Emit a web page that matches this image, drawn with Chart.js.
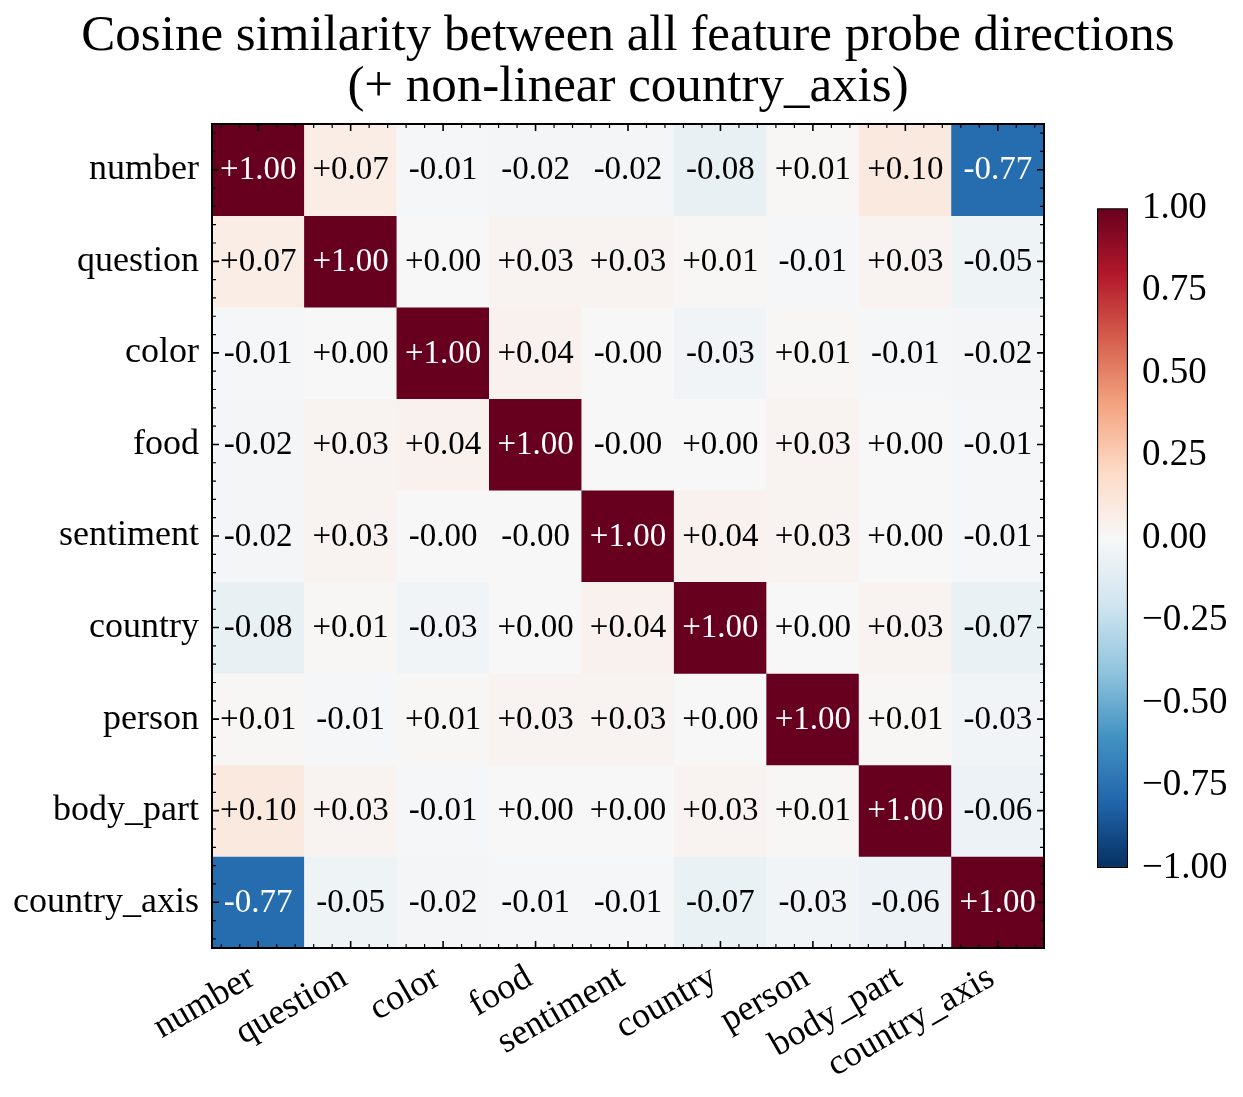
<!DOCTYPE html>
<html>
<head>
<meta charset="utf-8">
<title>Cosine similarity heatmap</title>
<script src="https://cdn.jsdelivr.net/npm/chart.js@4.4.1/dist/chart.umd.min.js"></script>
<style>
  html,body{margin:0;padding:0;background:#fff;}
  #wrap{position:relative;width:1243px;height:1097px;}
  #main{position:absolute;left:0;top:0;width:1243px;height:1097px;}
  #cbar{position:absolute;left:1097px;top:180px;width:146px;height:720px;}
</style>
</head>
<body>
<div id="wrap">
  <div id="main"><canvas id="heat"></canvas></div>
  <div id="cbar"><canvas id="bar"></canvas></div>
</div>
<script>
// --- Data ---
const FEATURES = ['number','question','color','food','sentiment','country','person','body_part','country_axis'];
// rows in FEATURES order; "-0.00" cells kept as tiny negatives so the sign shows
const ROW_NUMBER       = [ 1.00,  0.07, -0.01, -0.02, -0.02, -0.08,  0.01,  0.10, -0.77];
const ROW_QUESTION     = [ 0.07,  1.00,  0.00,  0.03,  0.03,  0.01, -0.01,  0.03, -0.05];
const ROW_COLOR        = [-0.01,  0.00,  1.00,  0.04, -0.002,-0.03,  0.01, -0.01, -0.02];
const ROW_FOOD         = [-0.02,  0.03,  0.04,  1.00, -0.002, 0.00,  0.03,  0.00, -0.01];
const ROW_SENTIMENT    = [-0.02,  0.03, -0.002,-0.002, 1.00,  0.04,  0.03,  0.00, -0.01];
const ROW_COUNTRY      = [-0.08,  0.01, -0.03,  0.00,  0.04,  1.00,  0.00,  0.03, -0.07];
const ROW_PERSON       = [ 0.01, -0.01,  0.01,  0.03,  0.03,  0.00,  1.00,  0.01, -0.03];
const ROW_BODY_PART    = [ 0.10,  0.03, -0.01,  0.00,  0.00,  0.03,  0.01,  1.00, -0.06];
const ROW_COUNTRY_AXIS = [-0.77, -0.05, -0.02, -0.01, -0.01, -0.07, -0.03, -0.06,  1.00];
const MATRIX = [ROW_NUMBER, ROW_QUESTION, ROW_COLOR, ROW_FOOD, ROW_SENTIMENT,
                ROW_COUNTRY, ROW_PERSON, ROW_BODY_PART, ROW_COUNTRY_AXIS];
const CBAR_MIN = -1, CBAR_MAX = 1, CBAR_STEP = 0.25;
const TITLE = ['Cosine similarity between all feature probe directions', '(+ non-linear country_axis)'];

// --- Colormap (RdBu_r anchors, low -> high) ---
const RDBU_R = ['#053061','#2166ac','#4393c3','#92c5de','#d1e5f0','#f7f7f7',
                '#fddbc7','#f4a582','#d6604d','#b2182b','#67001f'];
const SERIF = "'Liberation Serif', 'Times New Roman', serif";

function hexRgb(h){ return [1,3,5].map(i=>parseInt(h.slice(i,i+2),16)); }
function cmap(v){
  let t = (v - CBAR_MIN) / (CBAR_MAX - CBAR_MIN);
  t = Math.max(0, Math.min(1, t)) * (RDBU_R.length - 1);
  const i = Math.min(Math.floor(t), RDBU_R.length - 2), f = t - i;
  const a = hexRgb(RDBU_R[i]), b = hexRgb(RDBU_R[i+1]);
  const c = a.map((x,k)=>Math.round(x + (b[k]-x)*f));
  return `rgb(${c[0]},${c[1]},${c[2]})`;
}
const fmtCell = v => (v >= 0 ? '+' : '-') + Math.abs(v).toFixed(2);
const fmtBar = v => (v < 0 ? '\u2212' : '') + Math.abs(v).toFixed(2);

// --- Heatmap: each row is a floating bar dataset spanning one row band ---
const heatDatasets = MATRIX.map((row, r) => ({
  label: FEATURES[r],
  data: row.map(() => [r - 0.5, r + 0.5]),
  backgroundColor: row.map(v => cmap(v)),
  borderWidth: 0,
  barPercentage: 1,
  categoryPercentage: 1,
  grouped: false
}));

// title, annotations, frame and inward ticks on all sides
const heatExtras = {
  id: 'heatExtras',
  afterDatasetsDraw(chart){
    const {ctx, chartArea: a, scales:{x, y}} = chart;
    ctx.save();
    ctx.font = `33px ${SERIF}`;
    ctx.textAlign = 'center';
    ctx.textBaseline = 'middle';
    MATRIX.forEach((row, r) => row.forEach((v, c) => {
      ctx.fillStyle = Math.abs(v) > 0.5 ? '#fff' : '#000';
      ctx.fillText(fmtCell(v), x.getPixelForValue(c), y.getPixelForValue(r) + 1);
    }));
    ctx.strokeStyle = '#000';
    for (let k = -2; k <= 5 * (FEATURES.length - 1) + 2; k++) {
      const v = k / 5, major = k % 5 === 0, len = major ? 7 : 4;
      ctx.lineWidth = major ? 1.6 : 1.2;
      const px = x.getPixelForValue(v), py = y.getPixelForValue(v);
      ctx.beginPath();
      ctx.moveTo(px, a.bottom); ctx.lineTo(px, a.bottom - len);
      ctx.moveTo(px, a.top);    ctx.lineTo(px, a.top + len);
      ctx.moveTo(a.left, py);   ctx.lineTo(a.left + len, py);
      ctx.moveTo(a.right, py);  ctx.lineTo(a.right - len, py);
      ctx.stroke();
    }
    ctx.lineWidth = 2;
    ctx.strokeRect(a.left, a.top, a.right - a.left, a.bottom - a.top);

    // title centred over the plot area, like the axes title
    ctx.fillStyle = '#000';
    ctx.font = `51px ${SERIF}`;
    ctx.textBaseline = 'alphabetic';
    const cx = (a.left + a.right) / 2;
    TITLE.forEach((line, i) => ctx.fillText(line, cx, 50 + i * 51));
    ctx.restore();
  }
};

new Chart(document.getElementById('heat'), {
  type: 'bar',
  data: { labels: FEATURES, datasets: heatDatasets },
  options: {
    responsive: true, maintainAspectRatio: false, animation: false,
    layout: { padding: { left: 0, right: 199, top: 124, bottom: 0 } },
    plugins: {
      legend: { display: false },
      tooltip: { enabled: false },
      title: { display: false }
    },
    scales: {
      x: {
        type: 'category', offset: true,
        grid: { display: false }, border: { display: false },
        ticks: { color: '#000', font: { family: SERIF, size: 36 }, maxRotation: 30, minRotation: 30,
                 autoSkip: false, padding: -3,
                 callback: (v, i) => FEATURES[i] + '\u2009' },
        afterFit: s => { s.height = 149; }
      },
      y: {
        type: 'linear', min: -0.5, max: FEATURES.length - 0.5, reverse: true,
        grid: { display: false }, border: { display: false },
        afterBuildTicks: s => { s.ticks = FEATURES.map((_, i) => ({ value: i })); },
        ticks: { color: '#000', font: { family: SERIF, size: 36 }, padding: 5,
                 callback: v => FEATURES[v] },
        afterFit: s => { s.width = 212; }
      }
    }
  },
  plugins: [heatExtras]
});

// --- Colorbar: one floating bar over the value range, filled with the colormap ---
function cbarFill(context){
  const {ctx, chartArea} = context.chart;
  if (!chartArea) return RDBU_R[5];
  const g = ctx.createLinearGradient(0, chartArea.bottom, 0, chartArea.top);
  RDBU_R.forEach((c, i) => g.addColorStop(i / (RDBU_R.length - 1), c));
  return g;
}

new Chart(document.getElementById('bar'), {
  type: 'bar',
  data: { labels: ['cbar'], datasets: [{
    data: [[CBAR_MIN, CBAR_MAX]], backgroundColor: cbarFill,
    borderColor: '#000', borderWidth: 1.5, borderSkipped: false,
    barPercentage: 1, categoryPercentage: 1
  }]},
  options: {
    responsive: true, maintainAspectRatio: false, animation: false,
    layout: { padding: { left: 0, right: 0, top: 19, bottom: 32 } },
    plugins: { legend: { display: false }, tooltip: { enabled: false } },
    scales: {
      x: { display: false },
      y: {
        position: 'right', min: CBAR_MIN, max: CBAR_MAX,
        grid: { display: false }, border: { display: false },
        ticks: { stepSize: CBAR_STEP, color: '#000', font: { family: SERIF, size: 37 }, padding: 6,
                 callback: v => fmtBar(v) },
        afterFit: s => { s.width = 115; }
      }
    }
  }
});
</script>
</body>
</html>
